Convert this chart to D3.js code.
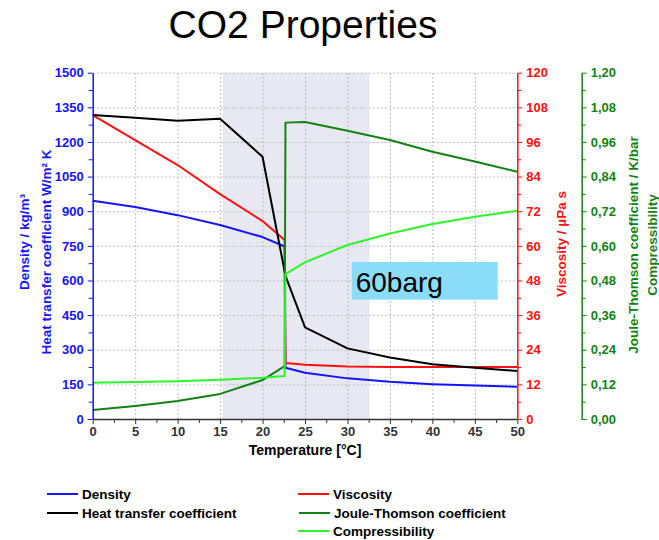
<!DOCTYPE html>
<html>
<head>
<meta charset="utf-8">
<script src="https://cdn.jsdelivr.net/npm/d3@7"></script>
<style>
  body { margin: 0; background: #fff; }
  svg { display: block; font-family: "Liberation Sans", Arial, sans-serif; }
  .tick text { font-size: 13px; font-weight: bold; }
  .grid line { stroke: #bdbdbd; stroke-dasharray: 2,2; }
  .grid path { display: none; }
</style>
</head>
<body>
<svg id="chart" width="659" height="540"></svg>
<script>
// temperature points (°C); the phase jump sits between 22.6 and 22.7
const temps = [0, 5, 10, 15, 20, 22.6, 22.7, 25, 30, 35, 40, 45, 50]
const density = [945, 918, 883, 840, 788, 747, 222, 200, 176, 161, 151, 145, 140]
const viscosity = [105.3, 96.6, 88.0, 77.9, 68.6, 62.0, 19.4, 18.8, 18.2, 18.0, 18.0, 18.0, 18.0]
const jouleThomson = [0.031, 0.045, 0.062, 0.087, 0.135, 0.183, 1.027, 1.029, 0.999, 0.967, 0.926, 0.892, 0.857]
const compressibility = [0.126, 0.128, 0.131, 0.136, 0.143, 0.149, 0.502, 0.543, 0.603, 0.643, 0.676, 0.701, 0.722]
// heat transfer has no jump
const heatTemps = [0, 5, 10, 15, 20, 22.7, 25, 30, 35, 40, 45, 50]
const heatTransfer = [1317, 1305, 1292, 1301, 1136, 620, 397, 306, 266, 237, 222, 208]

const tempTicks = [0, 5, 10, 15, 20, 25, 30, 35, 40, 45, 50]
const leftTicks = [0, 150, 300, 450, 600, 750, 900, 1050, 1200, 1350, 1500]
const viscTicks = [0, 12, 24, 36, 48, 60, 72, 84, 96, 108, 120]
const greenTicks = [0, 0.12, 0.24, 0.36, 0.48, 0.6, 0.72, 0.84, 0.96, 1.08, 1.2]

const shadeRange = [15.3, 32.6]
const labelBox = { t0: 30.5, t1: 47.7, v0: 517, v1: 680, text: '60barg' }

const BLUE = '#1414ff'
const RED = '#ff1010'
const DKGREEN = '#128212'
const LTGREEN = '#2bf52b'

const svg = d3.select('#chart')
const x = d3.scaleLinear().domain([0, 50]).range([92.7, 517.3])
const yLeft = d3.scaleLinear().domain([0, 1500]).range([419, 72.7])
const yVisc = d3.scaleLinear().domain([0, 120]).range([419, 72.7])
const yGreen = d3.scaleLinear().domain([0, 1.2]).range([419, 72.7])

// title
svg.append('text')
  .attr('x', 303).attr('y', 38)
  .attr('text-anchor', 'middle')
  .style('font-size', '39px')
  .text('CO2 Properties')

// shaded region
svg.append('rect')
  .attr('x', x(shadeRange[0]))
  .attr('y', yLeft(1500))
  .attr('width', x(shadeRange[1]) - x(shadeRange[0]))
  .attr('height', yLeft(0) - yLeft(1500))
  .attr('fill', '#e8e8f2')

// grid
svg.append('g').attr('class', 'grid')
  .attr('transform', `translate(0,${yLeft(0)})`)
  .call(d3.axisBottom(x).tickValues(tempTicks.slice(1, -1)).tickSize(-(yLeft(0) - yLeft(1500))).tickFormat(''))
svg.append('g').attr('class', 'grid')
  .attr('transform', `translate(${x(0)},0)`)
  .call(d3.axisLeft(yLeft).tickValues(leftTicks.slice(1)).tickSize(-(x(50) - x(0))).tickFormat(''))

// annotation box
svg.append('rect')
  .attr('x', x(labelBox.t0))
  .attr('y', yLeft(labelBox.v1))
  .attr('width', x(labelBox.t1) - x(labelBox.t0))
  .attr('height', yLeft(labelBox.v0) - yLeft(labelBox.v1))
  .attr('fill', '#8adcf8')
svg.append('text')
  .attr('x', x(labelBox.t0) + 4)
  .attr('y', yLeft(labelBox.v0) - 8)
  .style('font-size', '28px')
  .text(labelBox.text)

// lines
function drawLine(xs, values, yScale, color) {
  const line = d3.line()
    .x((d, i) => x(xs[i]))
    .y((d) => yScale(d))
  svg.append('path')
    .datum(values)
    .attr('fill', 'none')
    .attr('stroke', color)
    .attr('stroke-width', 2)
    .attr('stroke-linejoin', 'round')
    .attr('d', line)
}
drawLine(temps, density, yLeft, BLUE)
drawLine(temps, viscosity, yVisc, RED)
drawLine(heatTemps, heatTransfer, yLeft, '#000')
drawLine(temps, jouleThomson, yGreen, DKGREEN)
drawLine(temps, compressibility, yGreen, LTGREEN)

// axes
function styleAxis(g, color) {
  g.select('.domain').attr('stroke', color).attr('stroke-width', 1.5)
  g.selectAll('.tick line').attr('stroke', color)
  g.selectAll('.tick text').attr('fill', color)
}
function minor(g, axisFn, scale, values, color) {
  return svg.append('g')
    .attr('transform', g)
    .call(axisFn(scale).tickValues(values).tickSize(4).tickFormat(''))
    .call((s) => s.select('.domain').remove())
    .call((s) => s.selectAll('line').attr('stroke', color))
}

const halfs = (ticks) => ticks.slice(0, -1).map((t, i) => (t + ticks[i + 1]) / 2)

// bottom
minor(`translate(0,${yLeft(0)})`, d3.axisBottom, x, halfs(tempTicks), '#333')
svg.append('g')
  .attr('transform', `translate(0,${yLeft(0)})`)
  .call(d3.axisBottom(x).tickValues(tempTicks).tickSize(5).tickSizeOuter(0).tickPadding(3))
  .call((g) => styleAxis(g, '#333'))
svg.append('text')
  .attr('x', x(25)).attr('y', 455)
  .attr('text-anchor', 'middle')
  .style('font-size', '14px').style('font-weight', 'bold')
  .text('Temperature [°C]')

// left
minor(`translate(${x(0)},0)`, d3.axisLeft, yLeft, halfs(leftTicks), BLUE)
svg.append('g')
  .attr('transform', `translate(${x(0)},0)`)
  .call(d3.axisLeft(yLeft).tickValues(leftTicks).tickSize(5).tickSizeOuter(0).tickPadding(4)
    .tickFormat(d3.format('d')))
  .call((g) => styleAxis(g, BLUE))

// right red
minor(`translate(${x(50)},0)`, d3.axisRight, yVisc, halfs(viscTicks), RED)
svg.append('g')
  .attr('transform', `translate(${x(50)},0)`)
  .call(d3.axisRight(yVisc).tickValues(viscTicks).tickSize(5).tickSizeOuter(0).tickPadding(4))
  .call((g) => styleAxis(g, RED))

// right green
const greenX = 581.7
minor(`translate(${greenX},0)`, d3.axisRight, yGreen, halfs(greenTicks), DKGREEN)
svg.append('g')
  .attr('transform', `translate(${greenX},0)`)
  .call(d3.axisRight(yGreen).tickValues(greenTicks).tickSize(5).tickSizeOuter(0).tickPadding(4)
    .tickFormat((d) => d3.format('.2f')(d).replace('.', ',')))
  .call((g) => styleAxis(g, DKGREEN))

// axis titles
function rotTitle(bx, cy, color, label) {
  svg.append('text')
    .attr('transform', `translate(${bx},${cy}) rotate(-90)`)
    .attr('text-anchor', 'middle')
    .attr('fill', color)
    .style('font-size', '13.5px').style('font-weight', 'bold')
    .text(label)
}
rotTitle(29, 242, BLUE, 'Density / kg/m³')
rotTitle(50.5, 252, BLUE, 'Heat transfer coefficient W/m² K')
rotTitle(566, 244, RED, 'Viscosity / µPa s')
rotTitle(638, 245, DKGREEN, 'Joule-Thomson coefficient / K/bar')
rotTitle(656.5, 245, DKGREEN, 'Compressibility')

// legend
const legendItems = [
  { label: 'Density', color: BLUE, lx: 47, ly: 494 },
  { label: 'Heat transfer coefficient', color: '#000', lx: 47, ly: 513 },
  { label: 'Viscosity', color: RED, lx: 298, ly: 494 },
  { label: 'Joule-Thomson coefficient', color: DKGREEN, lx: 299, ly: 513 },
  { label: 'Compressibility', color: LTGREEN, lx: 298, ly: 531 }
]
const lg = svg.append('g')
legendItems.forEach((d) => {
  lg.append('line')
    .attr('x1', d.lx).attr('x2', d.lx + 31)
    .attr('y1', d.ly).attr('y2', d.ly)
    .attr('stroke', d.color).attr('stroke-width', 2)
  lg.append('text')
    .attr('x', d.lx + 35).attr('y', d.ly + 5)
    .style('font-size', '13.5px').style('font-weight', 'bold')
    .text(d.label)
})
</script>
</body>
</html>
